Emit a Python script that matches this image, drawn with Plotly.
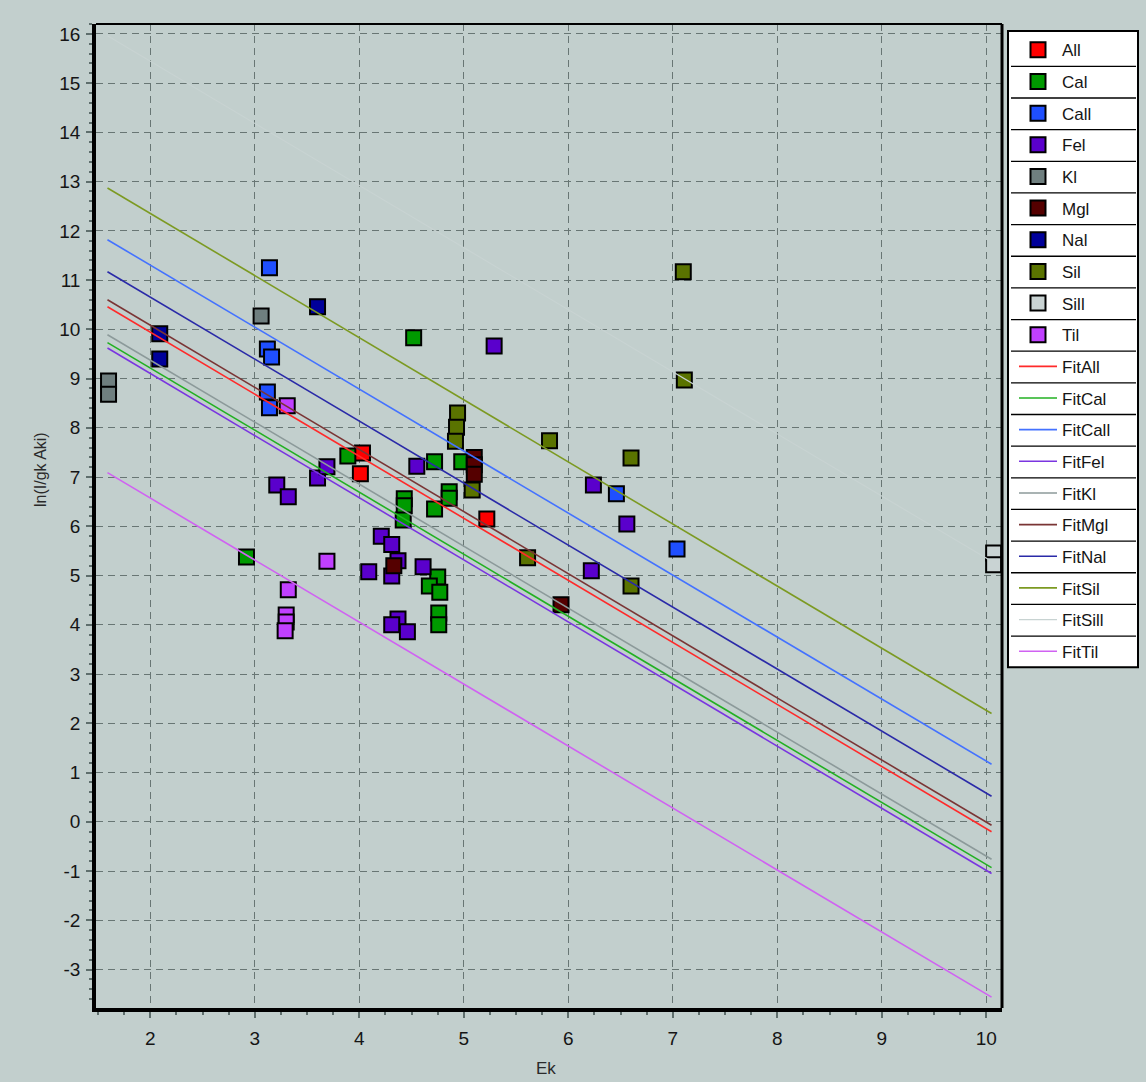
import plotly.graph_objects as go

# ---------------- data ----------------
series_names = ["All", "Cal", "Call", "Fel", "Kl", "Mgl", "Nal", "Sil", "Sill", "Til"]

all_x = [4.03, 4.01, 5.22]
all_y = [7.49, 7.07, 6.15]

cal_x = [2.92, 3.89, 4.52, 4.72, 4.43, 4.43, 4.42, 4.72, 4.98, 4.86, 4.86, 4.75, 4.67, 4.77, 4.76, 4.76]
cal_y = [5.38, 7.43, 9.83, 7.31, 6.56, 6.42, 6.13, 6.35, 7.31, 6.70, 6.57, 4.97, 4.79, 4.66, 4.24, 4.00]

call_x = [3.14, 3.12, 3.16, 3.12, 3.14, 6.46, 7.04]
call_y = [11.25, 9.60, 9.44, 8.73, 8.41, 6.66, 5.54]

fel_x = [3.21, 3.32, 3.60, 3.69, 4.55, 4.21, 4.31, 4.37, 4.31, 4.09, 4.61, 4.37, 4.31, 4.46, 5.29, 6.24, 6.56, 6.22]
fel_y = [6.84, 6.60, 6.98, 7.21, 7.22, 5.80, 5.63, 5.30, 4.99, 5.08, 5.18, 4.12, 4.00, 3.86, 9.66, 6.84, 6.05, 5.10]

kl_x = [1.60, 1.60, 3.06]
kl_y = [8.95, 8.68, 10.27]

mgl_x = [4.33, 5.10, 5.10, 5.10, 5.93]
mgl_y = [5.20, 7.40, 7.25, 7.06, 4.41]

nal_x = [2.09, 2.09, 3.60]
nal_y = [9.91, 9.40, 10.46]

sil_x = [4.94, 4.93, 4.92, 5.08, 5.82, 5.61, 6.60, 6.60, 7.10, 7.11]
sil_y = [8.30, 8.01, 7.73, 6.74, 7.74, 5.36, 7.39, 4.79, 11.17, 8.97]

sill_x = [10.07, 10.07]
sill_y = [5.46, 5.22]

til_x = [3.31, 3.69, 3.32, 3.30, 3.30, 3.29]
til_y = [8.45, 5.29, 4.71, 4.20, 4.06, 3.88]

series_x = [all_x, cal_x, call_x, fel_x, kl_x, mgl_x, nal_x, sil_x, sill_x, til_x]
series_y = [all_y, cal_y, call_y, fel_y, kl_y, mgl_y, nal_y, sil_y, sill_y, til_y]

# fit lines: start / end x and the y values at those ends
fit_names = ["FitAll", "FitCal", "FitCall", "FitFel", "FitKl", "FitMgl", "FitNal", "FitSil", "FitSill", "FitTil"]
fit_x = [1.59, 10.05]
fit_y_start = [10.46, 9.73, 11.82, 9.62, 9.89, 10.60, 11.17, 12.87, 15.96, 7.09]
fit_y_end = [-0.20, -0.93, 1.17, -1.05, -0.76, -0.07, 0.52, 2.20, 5.29, -3.56]

x_ticks = [2, 3, 4, 5, 6, 7, 8, 9, 10]
y_ticks = list(range(-3, 17))
y_tick_text = [str(v) for v in y_ticks]   # plain hyphen minus, as in the reference

# ---------------- styles ----------------
marker_colors = ["#FF0000", "#009A00", "#1F4FFF", "#5A00CC", "#6F7F7F",
                 "#550000", "#00009A", "#5A7300", "#C9D3D3", "#C040FF"]
fit_colors = ["#FF2A2A", "#22B022", "#4472FF", "#7A35E0", "#8C9A9A",
              "#7A3535", "#2A2AA8", "#7C9A22", "#C8D3D2", "#D062F2"]

BG = "#C2CFCD"
FONT = "Liberation Sans, Arial, sans-serif"

W, H = 1146, 1082
ML, MR, MT, MB = 96, 144, 24, 74
PW, PH = W - ML - MR, H - MT - MB


def px2x(px):
    return (px - ML) / PW


def px2y(py):
    return 1 - (py - MT) / PH


fig = go.Figure()

for i, name in enumerate(series_names):
    fig.add_trace(go.Scatter(
        x=series_x[i], y=series_y[i], mode="markers", name=name,
        legendgroup=name,
        marker=dict(symbol="square", size=15, color=marker_colors[i],
                    line=dict(color="#000000", width=2)),
    ))

for i, name in enumerate(fit_names):
    fig.add_trace(go.Scatter(
        x=fit_x, y=[fit_y_start[i], fit_y_end[i]], mode="lines", name=name,
        legendgroup=name,
        line=dict(color=fit_colors[i], width=1.6 if name != "FitSill" else 1.2),
    ))

# ---------------- legend frame drawn as cells ----------------
n_items = len(series_names) + len(fit_names)
leg_left, leg_right = 1008, 1138
first_c, step = 50.5, 31.65
leg_top, leg_bot = 31, first_c + step * (n_items - 1) + 15.5
shapes = [dict(type="rect", xref="paper", yref="paper",
               x0=px2x(leg_left), x1=px2x(leg_right), y0=px2y(leg_top), y1=px2y(leg_bot),
               fillcolor="white", line=dict(color="black", width=2), layer="above")]
for k in range(n_items - 1):
    sy = first_c + step * k + step / 2
    shapes.append(dict(type="line", xref="paper", yref="paper",
                       x0=px2x(leg_left + 3), x1=px2x(leg_right - 2), y0=px2y(sy), y1=px2y(sy),
                       line=dict(color="black", width=1.3), layer="above"))
# thin top / right frame of the plot area
shapes.append(dict(type="line", xref="paper", yref="paper", x0=0, x1=1, y0=1, y1=1,
                   line=dict(color="black", width=2), layer="above"))
shapes.append(dict(type="line", xref="paper", yref="paper", x0=1, x1=1, y0=0, y1=1,
                   line=dict(color="black", width=3), layer="above"))

axis_common = dict(
    showgrid=True, gridcolor="#687674", gridwidth=1.4, griddash="7px,5px",
    zeroline=False, showline=True, linecolor="black", linewidth=3.5,
    ticks="outside", ticklen=6, tickwidth=1.5, tickcolor="#5E6E6C",
    tickfont=dict(family=FONT, size=19, color="#151515"),
)

fig.update_layout(
    width=W, height=H, autosize=False,
    margin=dict(l=ML, r=MR, t=MT, b=MB),
    paper_bgcolor=BG, plot_bgcolor=BG,
    font=dict(family=FONT, color="#151515"),
    xaxis=dict(range=[1.48, 10.15], tickvals=x_ticks,
               minor=dict(dtick=0.25, ticks="outside", ticklen=3, tickcolor="#5E6E6C", showgrid=False),
               ticklabelstandoff=4, **axis_common),
    yaxis=dict(range=[-3.78, 16.2], tickvals=y_ticks, ticktext=y_tick_text,
               minor=dict(dtick=0.2, ticks="outside", ticklen=3, tickcolor="#5E6E6C", showgrid=False),
               ticklabelstandoff=2, **axis_common),
    showlegend=True,
    legend=dict(x=px2x(1014), y=px2y(first_c - 18.2), xanchor="left", yanchor="top",
                bgcolor="rgba(0,0,0,0)", borderwidth=0,
                font=dict(family=FONT, size=17, color="#151515"),
                tracegroupgap=step - (17 * 1.3 + 3), itemwidth=38,
                traceorder="grouped"),
    shapes=shapes,
    annotations=[
        dict(text="Ek", xref="paper", yref="paper", x=px2x(546), y=px2y(1068),
             showarrow=False, font=dict(family=FONT, size=17, color="#2A2A2A"),
             xanchor="center", yanchor="middle"),
        dict(text="ln(I/gk Aki)", xref="paper", yref="paper", x=px2x(40), y=px2y(470),
             showarrow=False, textangle=-90, font=dict(family=FONT, size=16, color="#2A2A2A"),
             xanchor="center", yanchor="middle"),
    ],
)

fig.write_html("out.html", config={"displayModeBar": False},
               post_script="document.body.style.margin='0';")
